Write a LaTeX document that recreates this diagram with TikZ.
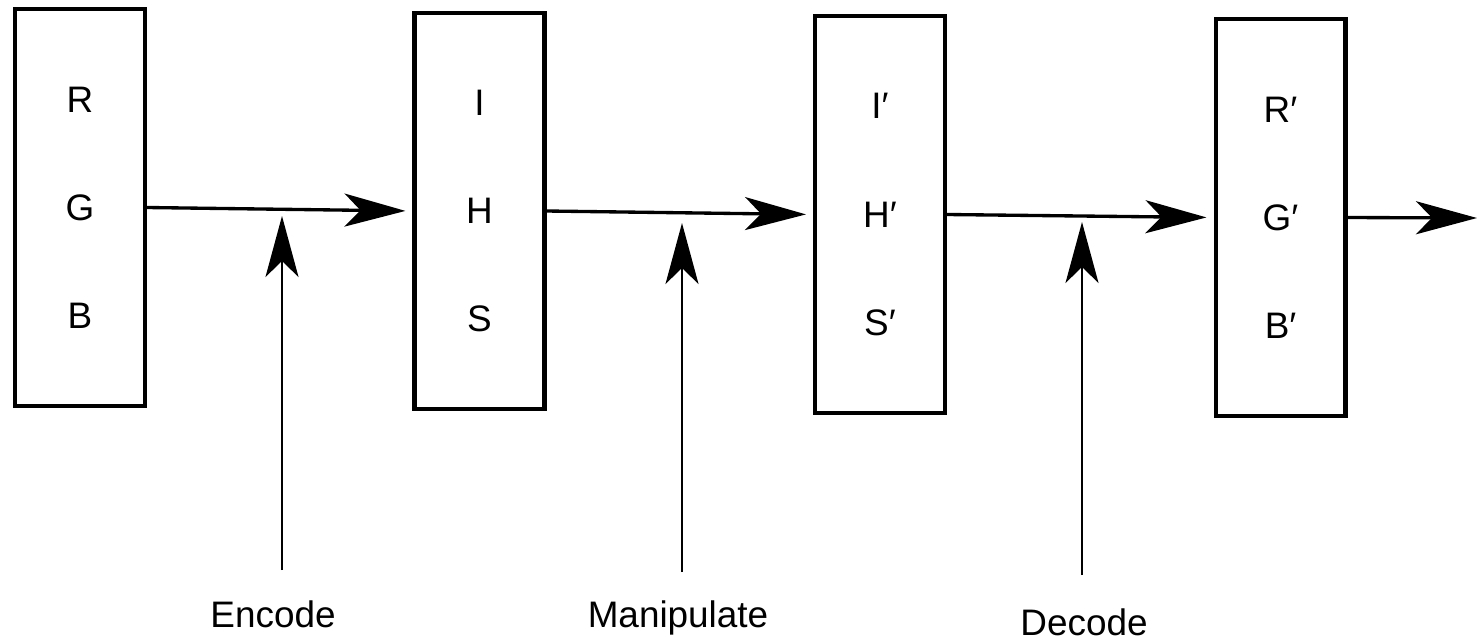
\documentclass[tikz,border=0pt]{standalone}
\usepackage{fontspec}
\setmainfont{Liberation Sans}
\usetikzlibrary{arrows.meta, positioning}

\begin{document}
\begin{tikzpicture}[x=0.02cm, y=-0.02cm,
  >={Stealth[length=1.22cm, width=0.66cm, inset=0.32cm]},
  font=\fontsize{21}{61.5}\selectfont,
  chan/.style={draw, line width=2.3pt, minimum width=2.6cm, minimum height=7.94cm, inner sep=0pt, align=center},
  flow/.style={->, line width=1.9pt},
  ctrl/.style={->, line width=1.4pt}]
  \useasboundingbox (0,0) rectangle (1477,643);
  % colour spaces
  \node[chan] (rgb) at (80,207.5) {R\\G\\B};
  \node[chan] (ihs) at (479.5,211) {I\\H\\S};
  \node[chan] (ihsp) at (880,214.5) {I′\\H′\\S′};
  \node[chan] (rgbp) at (1280.5,217.5) {R′\\G′\\B′};
  \coordinate (out) at (1477,218);
  \draw[flow, shorten >=4pt] (rgb.east) -- (ihs.west);
  \draw[flow, shorten >=4pt] (ihs.east) -- (ihsp.west);
  \draw[flow, shorten >=4pt] (ihsp.east) -- (rgbp.west);
  \draw[flow] (rgbp.east) -- (out);
  % operations
  \coordinate (enc) at (282,570);
  \coordinate (man) at (682,572);
  \coordinate (dec) at (1082,575);
  \coordinate (enc tip) at (282,216);
  \coordinate (man tip) at (682,223);
  \coordinate (dec tip) at (1082,222);
  \draw[ctrl] (enc) -- (enc tip);
  \draw[ctrl] (man) -- (man tip);
  \draw[ctrl] (dec) -- (dec tip);
  \node[anchor=base] (enc lbl) at (273,627) {Encode};
  \node[anchor=base] (man lbl) at (678,627) {Manipulate};
  \node[anchor=base] (dec lbl) at (1084,635) {Decode};
\end{tikzpicture}
\end{document}
